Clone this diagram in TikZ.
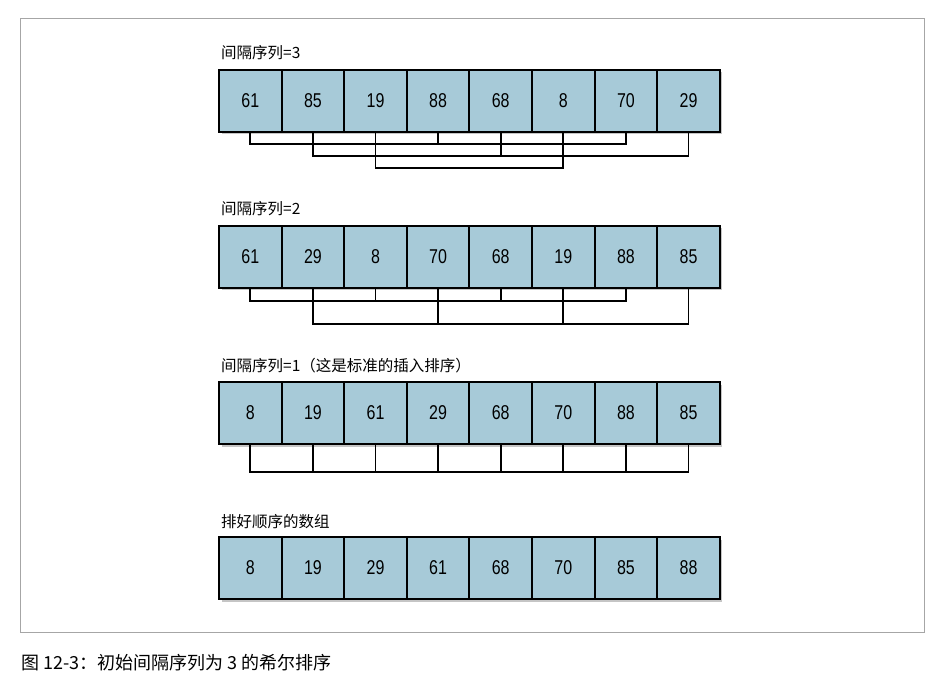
\documentclass[tikz,border=0pt]{standalone}
\usepackage{fontspec}
\setmainfont{Liberation Sans}
\newfontfamily\cjk{Noto Sans CJK SC}
\usetikzlibrary{shadows}
\definecolor{boxblue}{HTML}{A7CAD8}
\begin{document}
\begin{tikzpicture}[x=1pt,y=-1pt,
  cell/.style={draw=black,line width=2pt,fill=boxblue,minimum width=62.6pt,minimum height=62pt,inner sep=0pt,
    font=\fontsize{20}{20}\selectfont\addfontfeatures{FakeStretch=0.8},drop shadow={opacity=0.45,shadow xshift=2.5pt,shadow yshift=-2.5pt}},
  lbl/.style={anchor=west,font=\cjk\fontsize{15.5}{15.5}\selectfont,inner sep=0pt},
  conn/.style={line width=1.8pt}]
\useasboundingbox (0,0) rectangle (952,692);
\fill[white] (0,0) rectangle (952,692);
\draw[gray!70,line width=0.9pt] (20,18) rectangle (924,632);
\node[lbl] (l1) at (221,53) {间隔序列=3};
\node[lbl] (l2) at (221,209) {间隔序列=2};
\node[lbl] (l3) at (221,366) {间隔序列=1（这是标准的插入排序）};
\node[lbl] (l4) at (221,522) {排好顺序的数组};
\foreach \r/\y/\vals in {1/101/{61,85,19,88,68,8,70,29},2/257/{61,29,8,70,68,19,88,85},3/413/{8,19,61,29,68,70,88,85},4/568/{8,19,29,61,68,70,85,88}}{
  \foreach \v [count=\i from 0] in \vals {
    \node[cell] (r\r c\i) at (250.3+62.6*\i,\y) {\v};
  }
}
% row 1, gap 3
\draw[conn] (r1c0.south) -- ++(0,11) -| (r1c6.south);
\draw[conn] (r1c3.south) -- ++(0,11);
\draw[conn] (r1c1.south) -- ++(0,23) -| (r1c7.south);
\draw[conn] (r1c4.south) -- ++(0,23);
\draw[conn] (r1c2.south) -- ++(0,35) -| (r1c5.south);
% row 2, gap 2
\draw[conn] (r2c0.south) -- ++(0,12) -| (r2c6.south);
\draw[conn] (r2c2.south) -- ++(0,12);
\draw[conn] (r2c4.south) -- ++(0,12);
\draw[conn] (r2c1.south) -- ++(0,35) -| (r2c7.south);
\draw[conn] (r2c3.south) -- ++(0,35);
\draw[conn] (r2c5.south) -- ++(0,35);
% row 3, gap 1
\draw[conn] (r3c0.south) -- ++(0,27) -| (r3c7.south);
\foreach \i in {1,...,6} \draw[conn] (r3c\i.south) -- ++(0,27);
\node[anchor=west,font=\cjk\fontsize{18}{18}\selectfont,inner sep=0pt] (cap) at (21,663) {图 12-3：初始间隔序列为 3 的希尔排序};
\end{tikzpicture}
\end{document}
